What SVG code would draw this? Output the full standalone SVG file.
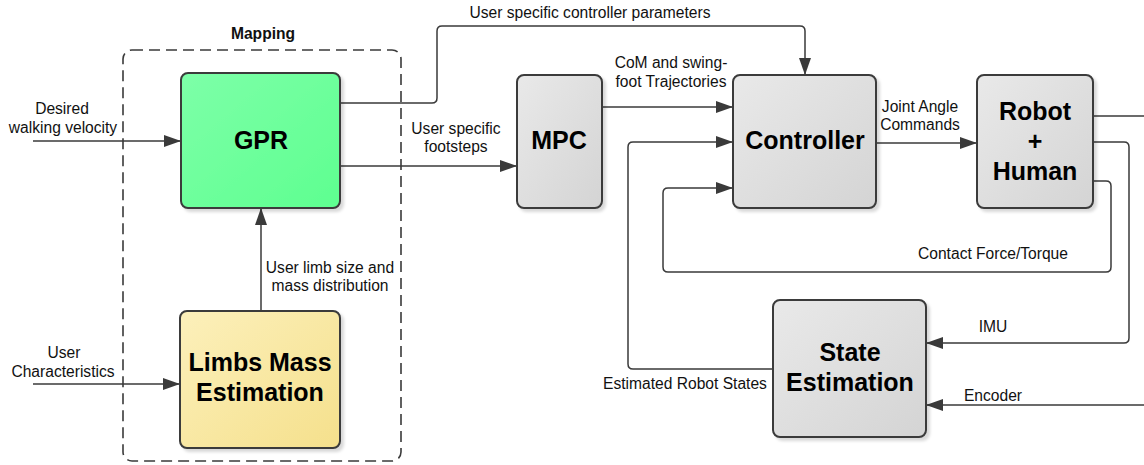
<svg xmlns="http://www.w3.org/2000/svg" width="1144" height="465" viewBox="0 0 1144 465">
  <defs>
    <linearGradient id="gGray" x1="0" y1="0" x2="1" y2="1">
      <stop offset="0" stop-color="#e9e9e9"/>
      <stop offset="1" stop-color="#d4d4d4"/>
    </linearGradient>
    <linearGradient id="gGreen" x1="0" y1="0" x2="1" y2="1">
      <stop offset="0" stop-color="#7dffa8"/>
      <stop offset="1" stop-color="#5eff90"/>
    </linearGradient>
    <linearGradient id="gYellow" x1="0" y1="0" x2="1" y2="1">
      <stop offset="0" stop-color="#fcf0bb"/>
      <stop offset="1" stop-color="#f5e08c"/>
    </linearGradient>
    <filter id="shadow" x="-10%" y="-10%" width="125%" height="125%">
      <feGaussianBlur in="SourceAlpha" stdDeviation="1.5"/>
      <feOffset dx="3" dy="3" result="b"/>
      <feFlood flood-color="#000" flood-opacity="0.15"/>
      <feComposite in2="b" operator="in"/>
      <feMerge>
        <feMergeNode/>
        <feMergeNode in="SourceGraphic"/>
      </feMerge>
    </filter>
    <marker id="arrow" markerUnits="userSpaceOnUse" markerWidth="17" markerHeight="12" refX="17" refY="6" orient="auto">
      <path d="M0,0 L17,6 L0,12 z" fill="#3a3a3a"/>
    </marker>
  </defs>
  <style>
    .box { stroke: #3a3a3a; stroke-width: 2; filter: url(#shadow); }
    .title { font-family: "Liberation Sans", Arial, sans-serif; font-weight: bold; font-size: 25px; fill: #000; text-anchor: middle; }
    .lbl { font-family: "Liberation Sans", Arial, sans-serif; font-size: 15.6px; fill: #111; }
    .mid { text-anchor: middle; }
    .wire { fill: none; stroke: #3a3a3a; stroke-width: 1.5; }
    .arr { marker-end: url(#arrow); }
  </style>
  <rect width="1144" height="465" fill="#fff"/>

  <!-- Mapping container -->
  <g id="mapping">
    <rect x="123" y="50" width="278" height="411" rx="9" fill="none" stroke="#3a3a3a" stroke-width="1.6" stroke-dasharray="11 6"/>
    <text class="lbl mid" x="263" y="39" font-weight="bold">Mapping</text>
  </g>

  <!-- Connectors -->
  <g id="connectors">
    <path class="wire arr" d="M33,141 H181"/>
    <path class="wire arr" d="M33,384 H180"/>
    <path class="wire arr" d="M261,311 V208"/>
    <path class="wire arr" d="M340,166 H517"/>
    <path class="wire arr" d="M340,103 H432 Q437,103 437,98 V31 Q437,26 442,26 H800 Q805,26 805,31 V75"/>
    <path class="wire arr" d="M602,107 H733"/>
    <path class="wire arr" d="M876,143 H977"/>
    <path class="wire" d="M1093,116 H1144"/>
    <path class="wire arr" d="M1093,142 H1124 Q1129,142 1129,147 V338 Q1129,343 1124,343 H926"/>
    <path class="wire arr" d="M1093,181 H1106 Q1111,181 1111,186 V267 Q1111,272 1106,272 H668 Q663,272 663,267 V193 Q663,188 668,188 H733"/>
    <path class="wire arr" d="M1144,405 H926"/>
    <path class="wire arr" d="M773,369 H633 Q628,369 628,364 V147 Q628,142 633,142 H733"/>

    <text class="lbl mid" x="62" y="114">Desired</text>
    <text class="lbl mid" x="63" y="133">walking velocity</text>
    <text class="lbl mid" x="64" y="358">User</text>
    <text class="lbl mid" x="63" y="377">Characteristics</text>
    <text class="lbl mid" x="330" y="273">User limb size and</text>
    <text class="lbl mid" x="330" y="291">mass distribution</text>
    <text class="lbl mid" x="456" y="134">User specific</text>
    <text class="lbl mid" x="456" y="152">footsteps</text>
    <text class="lbl mid" x="590" y="18">User specific controller parameters</text>
    <text class="lbl mid" x="671" y="68">CoM and swing-</text>
    <text class="lbl mid" x="671" y="87">foot Trajectories</text>
    <text class="lbl mid" x="920" y="112">Joint Angle</text>
    <text class="lbl mid" x="920" y="130">Commands</text>
    <text class="lbl mid" x="993" y="259">Contact Force/Torque</text>
    <text class="lbl mid" x="993" y="332">IMU</text>
    <text class="lbl mid" x="993" y="401">Encoder</text>
    <text class="lbl mid" x="685" y="389">Estimated Robot States</text>
  </g>

  <!-- Nodes -->
  <g id="gpr">
    <rect class="box" x="181" y="73" width="159" height="135" rx="7" fill="url(#gGreen)"/>
    <text class="title" x="261" y="149">GPR</text>
  </g>
  <g id="limbs">
    <rect class="box" x="180" y="311" width="160" height="137" rx="7" fill="url(#gYellow)"/>
    <text class="title" x="260" y="371">Limbs Mass</text>
    <text class="title" x="260" y="401">Estimation</text>
  </g>
  <g id="mpc">
    <rect class="box" x="517" y="75" width="85" height="133" rx="7" fill="url(#gGray)"/>
    <text class="title" x="559" y="149">MPC</text>
  </g>
  <g id="controller">
    <rect class="box" x="733" y="75" width="143" height="133" rx="7" fill="url(#gGray)"/>
    <text class="title" x="805" y="149">Controller</text>
  </g>
  <g id="robot">
    <rect class="box" x="977" y="75" width="116" height="133" rx="7" fill="url(#gGray)"/>
    <text class="title" x="1035" y="120">Robot</text>
    <text class="title" x="1035" y="150">+</text>
    <text class="title" x="1035" y="180">Human</text>
  </g>
  <g id="state">
    <rect class="box" x="773" y="300" width="153" height="137" rx="7" fill="url(#gGray)"/>
    <text class="title" x="850" y="361">State</text>
    <text class="title" x="850" y="391">Estimation</text>
  </g>
</svg>
